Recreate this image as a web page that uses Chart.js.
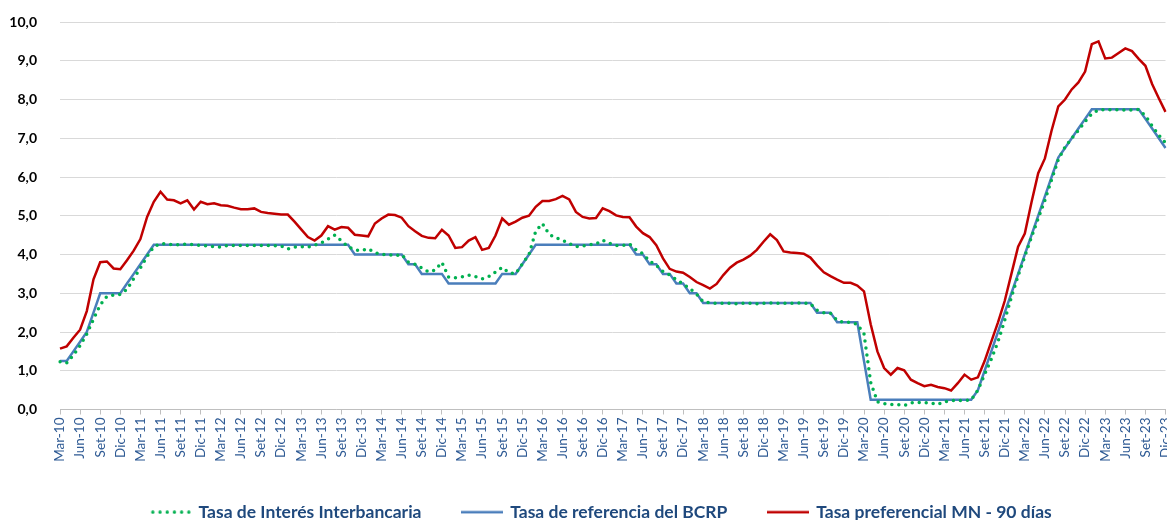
<!DOCTYPE html>
<html>
<head>
<meta charset="utf-8">
<script src="https://cdn.jsdelivr.net/npm/chart.js@4.4.0/dist/chart.umd.min.js"></script>
<style>
  html, body { margin: 0; padding: 0; background: #fff; }
  #wrap { width: 1167px; height: 520px; }
</style>
</head>
<body>
<div id="wrap"><canvas id="tasasChart"></canvas></div>
<script>
// meses y años del eje (Mar-10 ... Dic-23)
const meses = ['Ene', 'Feb', 'Mar', 'Abr', 'May', 'Jun', 'Jul', 'Ago', 'Set', 'Oct', 'Nov', 'Dic'];
const anios = ['10', '11', '12', '13', '14', '15', '16', '17', '18', '19', '20', '21', '22', '23'];

const categorias = [];
anios.forEach((a, k) => {
  meses.forEach((m, j) => {
    if (k === 0 && j < 2) return;
    categorias.push(m + '-' + a);
  });
});

// Tasa de Interés Interbancaria
const interbancaria = [
  1.23, 1.20, 1.40, 1.65, 1.95, 2.33, 2.70, 2.92, 2.95, 2.97,
  3.10, 3.38, 3.65, 3.95, 4.20, 4.28, 4.27, 4.25, 4.25, 4.27, 4.25, 4.23,
  4.22, 4.20, 4.19, 4.23, 4.23, 4.23, 4.23, 4.23, 4.23, 4.23, 4.23, 4.22,
  4.14, 4.19, 4.20, 4.19, 4.24, 4.30, 4.40, 4.50, 4.35, 4.20, 4.12, 4.10,
  4.15, 4.05, 4.00, 4.00, 3.97, 4.00, 3.80, 3.75, 3.65, 3.55, 3.60, 3.80,
  3.42, 3.40, 3.42, 3.47, 3.43, 3.37, 3.43, 3.55, 3.67, 3.53, 3.50, 3.75,
  4.00, 4.60, 4.80, 4.52, 4.43, 4.37, 4.28, 4.20, 4.22, 4.25, 4.27, 4.37,
  4.29, 4.23, 4.23, 4.27, 4.12, 4.02, 3.83, 3.72, 3.56, 3.47, 3.35, 3.24,
  3.12, 2.98, 2.78, 2.75, 2.74, 2.74, 2.74, 2.73, 2.74, 2.74, 2.73, 2.74,
  2.75, 2.74, 2.74, 2.74, 2.75, 2.75, 2.73, 2.56, 2.50, 2.48, 2.30, 2.25,
  2.25, 2.20, 1.95, 0.70, 0.20, 0.15, 0.13, 0.13, 0.10, 0.17, 0.18, 0.18,
  0.17, 0.13, 0.20, 0.23, 0.23, 0.23, 0.25, 0.50, 0.90, 1.30, 1.75, 2.30,
  2.90, 3.45, 3.95, 4.45, 4.93, 5.40, 5.93, 6.45, 6.77, 7.00, 7.20, 7.43,
  7.63, 7.73, 7.74, 7.73, 7.74, 7.73, 7.73, 7.74, 7.58, 7.32, 7.08, 6.88
];

// Tasa de referencia del BCRP
const referencia = [
  1.25, 1.25, 1.50, 1.75, 2.00, 2.50, 3.00, 3.00, 3.00, 3.00,
  3.25, 3.50, 3.75, 4.00, 4.25, 4.25, 4.25, 4.25, 4.25, 4.25, 4.25, 4.25,
  4.25, 4.25, 4.25, 4.25, 4.25, 4.25, 4.25, 4.25, 4.25, 4.25, 4.25, 4.25,
  4.25, 4.25, 4.25, 4.25, 4.25, 4.25, 4.25, 4.25, 4.25, 4.25, 4.00, 4.00,
  4.00, 4.00, 4.00, 4.00, 4.00, 4.00, 3.75, 3.75, 3.50, 3.50, 3.50, 3.50,
  3.25, 3.25, 3.25, 3.25, 3.25, 3.25, 3.25, 3.25, 3.50, 3.50, 3.50, 3.75,
  4.00, 4.25, 4.25, 4.25, 4.25, 4.25, 4.25, 4.25, 4.25, 4.25, 4.25, 4.25,
  4.25, 4.25, 4.25, 4.25, 4.00, 4.00, 3.75, 3.75, 3.50, 3.50, 3.25, 3.25,
  3.00, 3.00, 2.75, 2.75, 2.75, 2.75, 2.75, 2.75, 2.75, 2.75, 2.75, 2.75,
  2.75, 2.75, 2.75, 2.75, 2.75, 2.75, 2.75, 2.50, 2.50, 2.50, 2.25, 2.25,
  2.25, 2.25, 1.25, 0.25, 0.25, 0.25, 0.25, 0.25, 0.25, 0.25, 0.25, 0.25,
  0.25, 0.25, 0.25, 0.25, 0.25, 0.25, 0.25, 0.50, 1.00, 1.50, 2.00, 2.50,
  3.00, 3.50, 4.00, 4.50, 5.00, 5.50, 6.00, 6.50, 6.75, 7.00, 7.25, 7.50,
  7.75, 7.75, 7.75, 7.75, 7.75, 7.75, 7.75, 7.75, 7.50, 7.25, 7.00, 6.75
];

// Tasa preferencial MN - 90 días
const preferencial = [
  1.57, 1.63, 1.85, 2.06, 2.54, 3.36, 3.80, 3.82, 3.64, 3.62,
  3.85, 4.10, 4.40, 4.97, 5.36, 5.62, 5.42, 5.40, 5.32, 5.40, 5.16, 5.36,
  5.30, 5.32, 5.27, 5.26, 5.21, 5.17, 5.17, 5.19, 5.10, 5.07, 5.05, 5.03,
  5.03, 4.85, 4.65, 4.45, 4.36, 4.49, 4.73, 4.64, 4.71, 4.69, 4.51, 4.49,
  4.47, 4.80, 4.93, 5.03, 5.02, 4.95, 4.73, 4.60, 4.48, 4.43, 4.42, 4.64,
  4.49, 4.17, 4.19, 4.36, 4.45, 4.12, 4.17, 4.49, 4.93, 4.77, 4.85, 4.95,
  5.00, 5.23, 5.38, 5.38, 5.43, 5.51, 5.42, 5.10, 4.97, 4.93, 4.94, 5.19,
  5.12, 5.01, 4.97, 4.96, 4.72, 4.55, 4.45, 4.24, 3.90, 3.63, 3.56, 3.53,
  3.42, 3.29, 3.21, 3.12, 3.24, 3.47, 3.66, 3.79, 3.87, 3.97, 4.12, 4.33,
  4.52, 4.37, 4.08, 4.05, 4.04, 4.02, 3.92, 3.72, 3.54, 3.44, 3.35, 3.27,
  3.27, 3.20, 3.05, 2.20, 1.50, 1.07, 0.90, 1.07, 1.01, 0.77, 0.68, 0.60,
  0.64, 0.58, 0.55, 0.49, 0.68, 0.90, 0.77, 0.83, 1.25, 1.75, 2.25, 2.80,
  3.50, 4.20, 4.54, 5.35, 6.10, 6.48, 7.20, 7.82, 8.00, 8.26, 8.44, 8.72,
  9.43, 9.50, 9.06, 9.08, 9.20, 9.32, 9.25, 9.05, 8.87, 8.40, 8.03, 7.68
];

const verde = '#00B050';
const azul = '#4A7EBB';
const rojo = '#C00000';

// muestras de la leyenda (linea punteada / linea continua)
function muestra(color, punteada) {
  const c = document.createElement('canvas');
  c.width = 42;
  c.height = 4;
  const g = c.getContext('2d');
  g.fillStyle = color;
  if (punteada) {
    for (let i = 0; i < 6; i++) {
      g.beginPath();
      g.arc(3 + i * 7.2, 2, 1.7, 0, Math.PI * 2);
      g.fill();
    }
  } else {
    g.fillRect(0, 0.75, 42, 2.5);
  }
  return c;
}
const muestras = [muestra(verde, true), muestra(azul, false), muestra(rojo, false)];

// la leyenda va un poco a la derecha, como en el original
const moverLeyenda = {
  id: 'moverLeyenda',
  afterLayout(chart) {
    chart.legend.left += 19;
    chart.legend.right += 19;
  }
};

new Chart(document.getElementById('tasasChart'), {
  type: 'line',
  data: {
    labels: categorias,
    datasets: [{
      label: 'Tasa de Interés Interbancaria',
      data: interbancaria,
      borderColor: verde,
      backgroundColor: verde,
      borderWidth: 3.5,
      borderDash: [0, 7],
      borderCapStyle: 'round',
      pointRadius: 0,
      tension: 0
    }, {
      label: 'Tasa de referencia del BCRP',
      data: referencia,
      borderColor: azul,
      backgroundColor: azul,
      borderWidth: 2.5,
      pointRadius: 0,
      tension: 0
    }, {
      label: 'Tasa preferencial MN - 90 días',
      data: preferencial,
      borderColor: rojo,
      backgroundColor: rojo,
      borderWidth: 2.5,
      pointRadius: 0,
      tension: 0
    }]
  },
  plugins: [moverLeyenda],
  options: {
    responsive: true,
    maintainAspectRatio: false,
    animation: false,
    layout: { padding: { top: 22, right: 1.5, bottom: -11, left: 0 } },
    plugins: {
      tooltip: { enabled: false },
      legend: {
        position: 'bottom',
        labels: {
          usePointStyle: true,
          pointStyleWidth: 38,
          padding: 42,
          color: '#1F497D',
          font: { family: 'Lato', size: 17.5, weight: 'bold' },
          generateLabels: (chart) => Chart.defaults.plugins.legend.labels.generateLabels(chart)
            .map((it, i) => Object.assign(it, { pointStyle: muestras[i] }))
        }
      }
    },
    scales: {
      x: {
        offset: false,
        grid: {
          drawOnChartArea: false,
          drawTicks: true,
          tickLength: 5,
          color: (ctx) => ctx.index % 3 === 0 ? '#BFBFBF' : 'rgba(0,0,0,0)'
        },
        border: { color: '#BFBFBF', width: 1 },
        ticks: {
          autoSkip: false,
          minRotation: 90,
          maxRotation: 90,
          padding: 3,
          color: '#2E5A94',
          font: { family: 'Lato', size: 13.5 },
          callback: (v, i) => i % 3 === 0 ? categorias[i] : ''
        },
        afterFit: (s) => { s.height = 52; s.paddingLeft = 0; s.paddingRight = 0; }
      },
      y: {
        min: 0,
        max: 10,
        grid: { color: '#D9D9D9', lineWidth: 1, drawTicks: false },
        border: { display: false },
        ticks: {
          stepSize: 1,
          padding: 23,
          color: '#000',
          font: { family: 'Lato', size: 14, weight: 'bold' },
          callback: (v) => v.toFixed(1).replace('.', ',')
        },
        afterFit: (s) => { s.width = 60; s.paddingTop = 0; s.paddingBottom = 0; }
      }
    }
  }
});
</script>
</body>
</html>
